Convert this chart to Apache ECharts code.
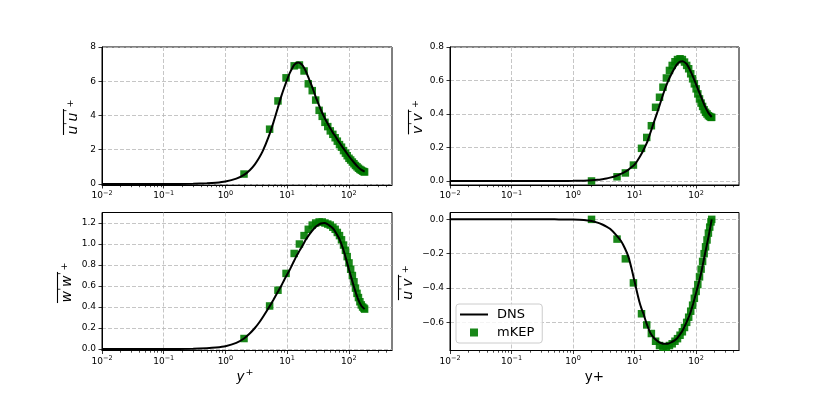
<!DOCTYPE html>
<html><head><meta charset="utf-8">
<script src="https://cdn.jsdelivr.net/npm/echarts@6/dist/echarts.min.js"></script>
<style>html,body{margin:0;padding:0;background:#fff}#c{width:822px;height:395px}</style>
</head><body><div id="c"></div><script>
// ---- data ----
const yPlusDNS = [0.01, 0.1, 0.3, 0.5, 0.7, 1, 1.5, 2, 2.5, 3, 3.5, 4, 5, 6, 7, 8, 9, 10, 11, 12, 13, 14, 15, 16, 18, 20, 22.5, 25, 27.5, 30, 35, 40, 45, 50, 55, 60, 70, 80, 90, 100, 120, 140, 160, 180];
const uuDNS = [0, 0.0013, 0.012, 0.035, 0.068, 0.14, 0.31, 0.53, 0.82, 1.15, 1.52, 1.9, 2.75, 3.6, 4.4, 5.1, 5.65, 6.1, 6.47, 6.75, 6.95, 7.06, 7.1, 7.07, 6.9, 6.6, 6.15, 5.75, 5.33, 4.95, 4.35, 3.9, 3.55, 3.25, 3.0, 2.8, 2.42, 2.12, 1.86, 1.62, 1.27, 1.0, 0.82, 0.72];
const vvDNS = [0, 0, 0, 0.0001, 0.0003, 0.0008, 0.002, 0.004, 0.007, 0.011, 0.015, 0.02, 0.03, 0.042, 0.055, 0.068, 0.083, 0.098, 0.118, 0.14, 0.162, 0.185, 0.208, 0.23, 0.285, 0.335, 0.39, 0.44, 0.488, 0.53, 0.595, 0.64, 0.675, 0.7, 0.713, 0.715, 0.7, 0.662, 0.62, 0.578, 0.505, 0.445, 0.405, 0.382];
const wwDNS = [0, 0.0003, 0.003, 0.008, 0.014, 0.026, 0.058, 0.1, 0.15, 0.2, 0.25, 0.3, 0.39, 0.47, 0.54, 0.6, 0.66, 0.71, 0.755, 0.8, 0.84, 0.88, 0.91, 0.94, 0.99, 1.04, 1.085, 1.12, 1.15, 1.17, 1.195, 1.2, 1.19, 1.17, 1.15, 1.12, 1.05, 0.96, 0.86, 0.76, 0.6, 0.48, 0.41, 0.38];
const uvDNS = [0, 0, 0, 0, -0.0005, -0.001, -0.004, -0.01, -0.019, -0.03, -0.042, -0.055, -0.09, -0.125, -0.17, -0.22, -0.29, -0.36, -0.425, -0.48, -0.52, -0.55, -0.585, -0.615, -0.66, -0.685, -0.703, -0.715, -0.722, -0.725, -0.725, -0.715, -0.705, -0.69, -0.67, -0.65, -0.6, -0.55, -0.49, -0.43, -0.32, -0.2, -0.1, 0];

const yPlusKEP = [2.0, 5.2, 7.1, 9.6, 13, 15.8, 18.8, 22, 25.5, 29, 33, 37, 41, 45.5, 50, 55, 60, 65, 70.5, 76, 82, 88, 94, 100.5, 107, 114, 121, 128, 135.5, 143, 151, 159, 167, 175, 180];
const uuKEP = [0.58, 3.2, 4.85, 6.2, 6.9, 6.95, 6.6, 5.85, 5.45, 4.9, 4.3, 3.95, 3.6, 3.35, 3.1, 2.9, 2.7, 2.5, 2.3, 2.15, 1.95, 1.8, 1.65, 1.5, 1.4, 1.28, 1.18, 1.08, 1.0, 0.92, 0.85, 0.8, 0.75, 0.72, 0.7];
const vvKEP = [0.0, 0.025, 0.048, 0.095, 0.195, 0.26, 0.33, 0.44, 0.5, 0.56, 0.615, 0.66, 0.69, 0.712, 0.725, 0.73, 0.725, 0.71, 0.69, 0.67, 0.64, 0.61, 0.58, 0.55, 0.52, 0.49, 0.465, 0.445, 0.425, 0.41, 0.4, 0.39, 0.385, 0.38, 0.38];
const wwKEP = [0.1, 0.41, 0.56, 0.72, 0.91, 1.0, 1.08, 1.14, 1.18, 1.2, 1.21, 1.21, 1.2, 1.19, 1.18, 1.16, 1.14, 1.11, 1.08, 1.04, 0.99, 0.94, 0.88, 0.82, 0.76, 0.7, 0.64, 0.58, 0.53, 0.49, 0.45, 0.42, 0.4, 0.39, 0.38];
const uvKEP = [0.0, -0.115, -0.23, -0.37, -0.55, -0.615, -0.665, -0.71, -0.735, -0.745, -0.745, -0.735, -0.725, -0.71, -0.695, -0.675, -0.655, -0.63, -0.6, -0.57, -0.535, -0.5, -0.46, -0.42, -0.38, -0.335, -0.29, -0.245, -0.2, -0.16, -0.12, -0.08, -0.045, -0.015, 0.0];

const xTickExps = [-2, -1, 0, 1, 2];
const xMax = 500;
const yTicks = [[0, 2, 4, 6, 8], [0, 0.2, 0.4, 0.6, 0.8], [0, 0.2, 0.4, 0.6, 0.8, 1.0, 1.2], [-0.6, -0.4, -0.2, 0]];
const yRanges = [[-0.06, 8], [-0.024, 0.8], [-0.014, 1.3], [-0.764, 0.04]];
const yLabelLetters = [['u', 'u'], ['v', 'v'], ['w', 'w'], ['u', 'v']];
const legendNames = ['DNS', 'mKEP'];

// ---- layout ----
const grids = [
  {left: 102, top: 47, width: 290, height: 138},
  {left: 450, top: 47, width: 289, height: 138},
  {left: 102, top: 212.5, width: 290, height: 138},
  {left: 450, top: 212.5, width: 289, height: 138}
];
const FONT = '"DejaVu Sans", sans-serif';
const xMaxLog = Math.log10(xMax);
const minorTicks = [];
for (let n = -2; n <= 2; n++) for (let k = 2; k <= 9; k++) { const v = n + Math.log10(k); if (v < xMaxLog) minorTicks.push(v); }

const gridLine = {show: true, lineStyle: {type: [4, 2], color: '#b8b8b8', width: 0.8}};
function expLabel(v) {
  const s = String(Math.round(v)).replace('-', '\u2212');
  return '{b|10}{s|' + s + '}';
}
const xAxes = [], yAxes = [];
grids.forEach((g, i) => {
  xAxes.push({
    type: 'value', gridIndex: i, min: -2, max: xMaxLog, interval: 1, position: 'bottom',
    axisLine: {show: true, onZero: false, lineStyle: {color: '#000', width: 1}},
    axisTick: {show: true, length: 3.5, customValues: xTickExps, lineStyle: {color: '#000', width: 0.8}},
    axisLabel: {show: true, customValues: xTickExps, margin: 4.5, formatter: expLabel,
      rich: {
        b: {fontSize: 9, fontFamily: FONT, color: '#000', verticalAlign: 'bottom', lineHeight: 11},
        s: {fontSize: 6.5, fontFamily: FONT, color: '#000', verticalAlign: 'top', lineHeight: 11}
      }},
    splitLine: Object.assign({customValues: xTickExps}, gridLine)
  });
  xAxes.push({
    type: 'value', gridIndex: i, min: -2, max: xMaxLog, interval: 1, position: 'bottom',
    axisLine: {show: false, onZero: false}, axisLabel: {show: false}, splitLine: {show: false},
    axisTick: {show: true, length: 2.2, customValues: minorTicks, lineStyle: {color: '#000', width: 0.7}}
  });
  const yt = yTicks[i];
  const dec = i === 0 ? 0 : 1;
  yAxes.push({
    type: 'value', gridIndex: i, min: yRanges[i][0], max: yRanges[i][1],
    axisLine: {show: true, onZero: false, lineStyle: {color: '#000', width: 1}},
    axisTick: {show: true, length: 3.5, customValues: yt, lineStyle: {color: '#000', width: 0.8}},
    axisLabel: {show: true, customValues: yt, margin: 6, fontSize: 9, fontFamily: FONT, color: '#000',
      formatter: v => Number(v).toFixed(dec).replace('-', '\u2212')},
    splitLine: Object.assign({customValues: yt}, gridLine)
  });
});

const dnsSets = [uuDNS, vvDNS, wwDNS, uvDNS];
const kepSets = [uuKEP, vvKEP, wwKEP, uvKEP];
const series = [];
grids.forEach((g, i) => {
  series.push({
    name: legendNames[1], type: 'scatter', xAxisIndex: 2 * i, yAxisIndex: i,
    symbol: 'rect', symbolSize: 7.5, z: 2,
    itemStyle: {color: '#007a00', opacity: 0.9},
    data: yPlusKEP.map((y, j) => [Math.log10(y), kepSets[i][j]])
  });
  series.push({
    name: legendNames[0], type: 'line', xAxisIndex: 2 * i, yAxisIndex: i,
    symbol: 'none', smooth: 0.2, z: 3, color: '#000',
    lineStyle: {color: '#000', width: 2},
    data: yPlusDNS.map((y, j) => [Math.log10(y), dnsSets[i][j]])
  });
});

// ---- text labels ----
const ctx = document.createElement('canvas').getContext('2d');
function mw(s, font) { ctx.font = font; return ctx.measureText(s).width; }
function txt(x, y, s, font) {
  return {type: 'text', x: x, y: y, style: {text: s, font: font, fill: '#000',
    align: 'left', verticalAlign: 'middle', textAlign: 'left', textVerticalAlign: 'middle'}};
}
function makeYLabel(a, b, bx, cy) {
  const FI = 'italic 14px "DejaVu Sans"', FS = '9.5px "DejaVu Sans"';
  const wa = mw(a, FI), wb = mw(b, FI), wp = mw("'", FS), wplus = mw('+', FS);
  const x1 = wa + 0.5, x2 = x1 + wp + 1, x3 = x2 + wb + 0.5, x4 = x3 + wp + 0.5;
  const W = x4 + 1.5 + wplus;
  const o = -W / 2;
  return {
    type: 'group', x: bx, y: cy, rotation: Math.PI / 2,
    children: [
      txt(o, -4.5, a, FI), txt(o + x1, -8.5, "'", FS),
      txt(o + x2, -4.5, b, FI), txt(o + x3, -8.5, "'", FS),
      {type: 'line', shape: {x1: o - 0.5, y1: -14, x2: o + x4, y2: -14}, style: {stroke: '#000', lineWidth: 1.1}},
      txt(o + x4 + 1.5, -6.5, '+', FS)
    ]
  };
}
const yLabelPos = [[77.5, 117], [422.5, 117], [71.5, 282.5], [412.5, 282.5]];
const graphics = yLabelLetters.map((l, i) => makeYLabel(l[0], l[1], yLabelPos[i][0], yLabelPos[i][1]));
(function () {
  const FI = 'italic 13.5px "DejaVu Sans"', FR = '13.5px "DejaVu Sans"', FS = '9.5px "DejaVu Sans"';
  const wy = mw('y', FI), wpl = mw('+', FS);
  const W = wy + 1 + wpl, x0 = 245 - W / 2;
  graphics.push(txt(x0, 377.8, 'y', FI));
  graphics.push(txt(x0 + wy + 1, 372.5, '+', FS));
  const w2 = mw('y+', FR);
  graphics.push(txt(594.5 - w2 / 2, 377.8, 'y+', FR));
})();

const chart = echarts.init(document.getElementById('c'), null, {renderer: 'canvas'});
chart.setOption({
  animation: false,
  backgroundColor: '#fff',
  grid: grids.map(g => Object.assign({show: true, borderColor: '#000', borderWidth: 1, backgroundColor: 'transparent', containLabel: false}, g)),
  xAxis: xAxes,
  yAxis: yAxes,
  legend: {
    left: 456, top: 304, orient: 'vertical', itemWidth: 28, itemHeight: 8, itemGap: 5,
    padding: [4, 8, 4, 4], backgroundColor: 'rgba(255,255,255,0.8)', borderColor: '#cccccc',
    borderWidth: 1, borderRadius: 3, symbolKeepAspect: true,
    textStyle: {fontSize: 13, fontFamily: FONT, color: '#000', padding: [0, 0, 0, 4]},
    data: [
      {name: legendNames[0], icon: 'path://M0 0H28V2H0Z'},
      {name: legendNames[1], icon: 'path://M0 0H7V7H0Z'}
    ]
  },
  graphic: graphics,
  series: series
});
</script></body></html>
